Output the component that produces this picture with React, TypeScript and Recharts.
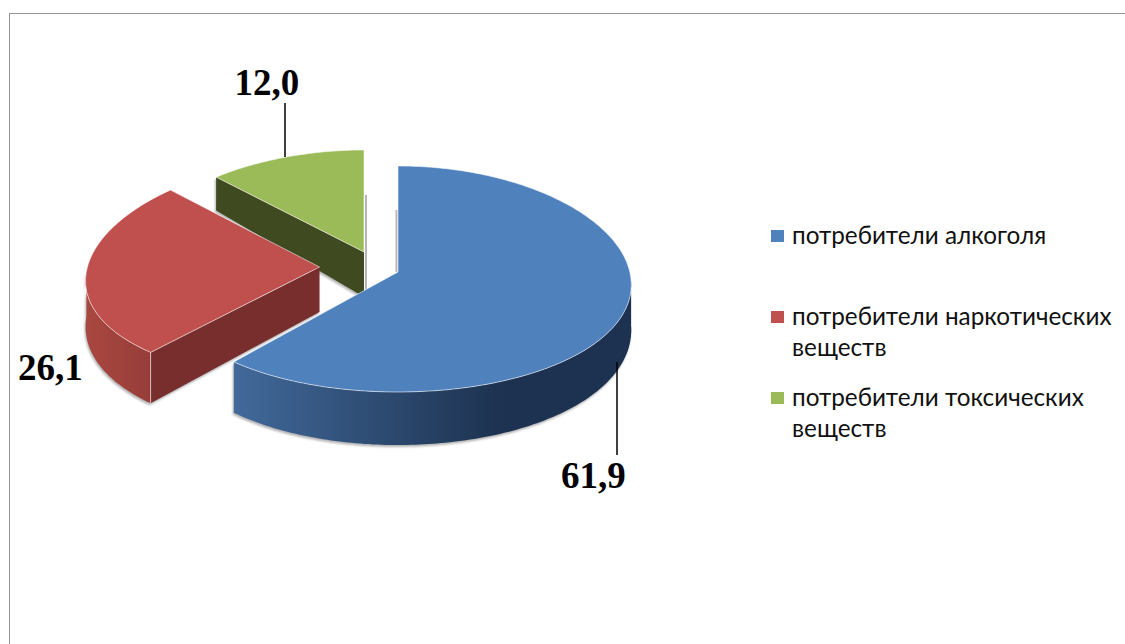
import { Legend, Pie, PieChart } from "recharts";

const categories = [
  "потребители алкоголя",
  "потребители наркотических веществ",
  "потребители токсических веществ",
];
const shares = [61.9, 26.1, 12.0];
const colors = ["#4f81bd", "#c0504d", "#9bbb59"];

// Отрисовка идёт в порядке данных, а синий сектор должен лежать сверху,
// поэтому строки развёрнуты и круг идёт против часовой стрелки.
const rows = categories
  .map((name, i) => ({ name, value: shares[i], fill: colors[i] }))
  .reverse();

const CX = 398;
const CY = 279;
const RX = 233;

type Slice3d = {
  dx: number;
  dy: number;
  apexDy: number;
  ry: number;
  skew: number;
  cut: string;
  sideFrom: string;
  sideTo: string;
  gradX: [number, number];
  shadow: [number, number, number] | null;
  labelX: number;
  labelY: number;
  leader: [number, number, number, number] | null;
};

const slice3d: Record<string, Slice3d> = {
  [categories[0]]: {
    dx: 0,
    dy: 0,
    apexDy: -7,
    ry: 113,
    skew: 0.05,
    cut: "#2c4a6e",
    sideFrom: "#41699a",
    sideTo: "#1d3250",
    gradX: [234, 500],
    shadow: [396.5, 210, 272],
    labelX: 561,
    labelY: 488,
    leader: [617, 362, 617, 455],
  },
  [categories[1]]: {
    dx: -78.5,
    dy: -8,
    apexDy: -4,
    ry: 111,
    skew: 0.09,
    cut: "#772e2d",
    sideFrom: "#a8473f",
    sideTo: "#973d3a",
    gradX: [87, 151],
    shadow: null,
    labelX: 18,
    labelY: 380,
    leader: null,
  },
  [categories[2]]: {
    dx: -34,
    dy: -29,
    apexDy: 2,
    ry: 100,
    skew: 0.1,
    cut: "#404a21",
    sideFrom: "#404a21",
    sideTo: "#404a21",
    gradX: [215, 364],
    shadow: [366, 195, 290],
    labelX: 234.5,
    labelY: 95,
    leader: [285, 103, 285, 157],
  },
};

const rad = (a: number) => (a * Math.PI) / 180;

// высота боковой стенки: ближе к зрителю она больше
const depthAt = (a: number) => {
  const s = Math.sin(rad(a));
  return s >= 0 ? 45 - 16 * s : 45 - 8 * s;
};

function Slice(props: any) {
  const { cx, cy, startAngle, endAngle, outerRadius, fill, name, payload } = props;
  const cfg = slice3d[name ?? payload?.name];
  if (!cfg) return null;
  const x0 = cx + cfg.dx;
  const y0 = cy + cfg.dy;
  const pt = (a: number): [number, number] => {
    const s = Math.sin(rad(a));
    return [
      x0 + outerRadius * Math.cos(rad(a)) * (1 - cfg.skew * s),
      y0 - cfg.ry * s,
    ];
  };
  const apex: [number, number] = [x0, y0 + cfg.apexDy];
  const sweep: number[] = [];
  for (let a = startAngle; a < endAngle; a += 1) sweep.push(a);
  sweep.push(endAngle);

  const toPath = (pts: [number, number][]) =>
    "M" + pts.map((p) => `${p[0].toFixed(1)},${p[1].toFixed(1)}`).join("L") + "Z";

  const top = toPath([apex, ...sweep.map(pt)]);
  const front = sweep.filter((a) => Math.sin(rad(a)) <= 0);
  const lower = (a: number): [number, number] => {
    const p = pt(a);
    return [p[0], p[1] + depthAt(a)];
  };
  const side =
    front.length > 1
      ? toPath([...front.map(pt), ...[...front].reverse().map(lower)])
      : null;
  const end = pt(endAngle);
  const endLow = lower(endAngle);
  const cutFace = toPath([apex, end, endLow, [apex[0], apex[1] + 45]]);
  const gradId = `side-${cfg.gradX[0]}`;

  return (
    <g>
      <defs>
        <linearGradient
          id={gradId}
          gradientUnits="userSpaceOnUse"
          x1={cfg.gradX[0]}
          x2={cfg.gradX[1]}
          y1={0}
          y2={0}
        >
          <stop offset="0" stopColor={cfg.sideFrom} />
          <stop offset="1" stopColor={cfg.sideTo} />
        </linearGradient>
      </defs>
      {cfg.shadow ? (
        <line
          x1={cfg.shadow[0]}
          x2={cfg.shadow[0]}
          y1={cfg.shadow[1]}
          y2={cfg.shadow[2]}
          stroke="#b5b5b5"
          strokeWidth={2}
        />
      ) : null}
      <g style={{ filter: "drop-shadow(-1px 2px 1px rgba(0,0,0,0.3))" }}>
        <path d={cutFace} fill={cfg.cut} />
        {side ? <path d={side} fill={`url(#${gradId})`} /> : null}
      </g>
      {Math.sin(rad(endAngle)) < 0 ? (
        <line
          x1={end[0]}
          y1={end[1]}
          x2={endLow[0]}
          y2={endLow[1]}
          stroke="#fff"
          strokeOpacity={0.6}
        />
      ) : null}
      <path d={top} fill={fill} stroke="#fff" strokeOpacity={0.55} strokeWidth={1} />
    </g>
  );
}

function ValueLabel(props: any) {
  const cfg = slice3d[props.name ?? props.payload?.name];
  if (!cfg) return null;
  return (
    <g>
      {cfg.leader ? (
        <line
          x1={cfg.leader[0]}
          y1={cfg.leader[1]}
          x2={cfg.leader[2]}
          y2={cfg.leader[3]}
          stroke="#000"
          strokeWidth={1.5}
        />
      ) : null}
      <text
        x={cfg.labelX}
        y={cfg.labelY}
        fontFamily="'Liberation Serif', serif"
        fontWeight={700}
        fontSize={37}
        fill="#000"
      >
        {Number(props.value).toFixed(1).replace(".", ",")}
      </text>
    </g>
  );
}

function LegendList({ payload }: any) {
  return (
    <div style={{ fontFamily: "Lato, 'Noto Sans', sans-serif", fontSize: 24.3, lineHeight: "31px", color: "#111" }}>
      {(payload ?? []).map((item: any) => (
        <div key={item.value} style={{ position: "relative", height: 81, paddingLeft: 21 }}>
          <span
            style={{
              position: "absolute",
              left: 0,
              top: 11,
              width: 13,
              height: 12,
              background: item.color,
            }}
          />
          {item.value}
        </div>
      ))}
    </div>
  );
}

export default function App() {
  return (
    <div style={{ position: "absolute", left: 0, top: 0, width: 1125, height: 644, background: "#fff", overflow: "hidden" }}>
      <div
        style={{
          position: "absolute",
          left: 9,
          top: 13,
          right: 0,
          bottom: 0,
          borderLeft: "1.5px solid #969696",
          borderTop: "1.5px solid #969696",
        }}
      />
      <div style={{ position: "absolute", left: 0, top: 0 }}>
        <PieChart width={1125} height={644} margin={{ top: 0, right: 0, bottom: 0, left: 0 }}>
          <Pie
            data={rows}
            dataKey="value"
            nameKey="name"
            cx={CX}
            cy={CY}
            outerRadius={RX}
            startAngle={90}
            endAngle={450}
            stroke="none"
            shape={Slice}
            activeShape={Slice}
            label={ValueLabel}
            labelLine={false}
            isAnimationActive={false}
          />
          <Legend
            layout="vertical"
            content={LegendList}
            itemSorter={(item: any) => categories.indexOf(item.value)}
            wrapperStyle={{ position: "absolute", left: 771, top: 219, width: 345, height: 243 }}
          />
        </PieChart>
      </div>
    </div>
  );
}
